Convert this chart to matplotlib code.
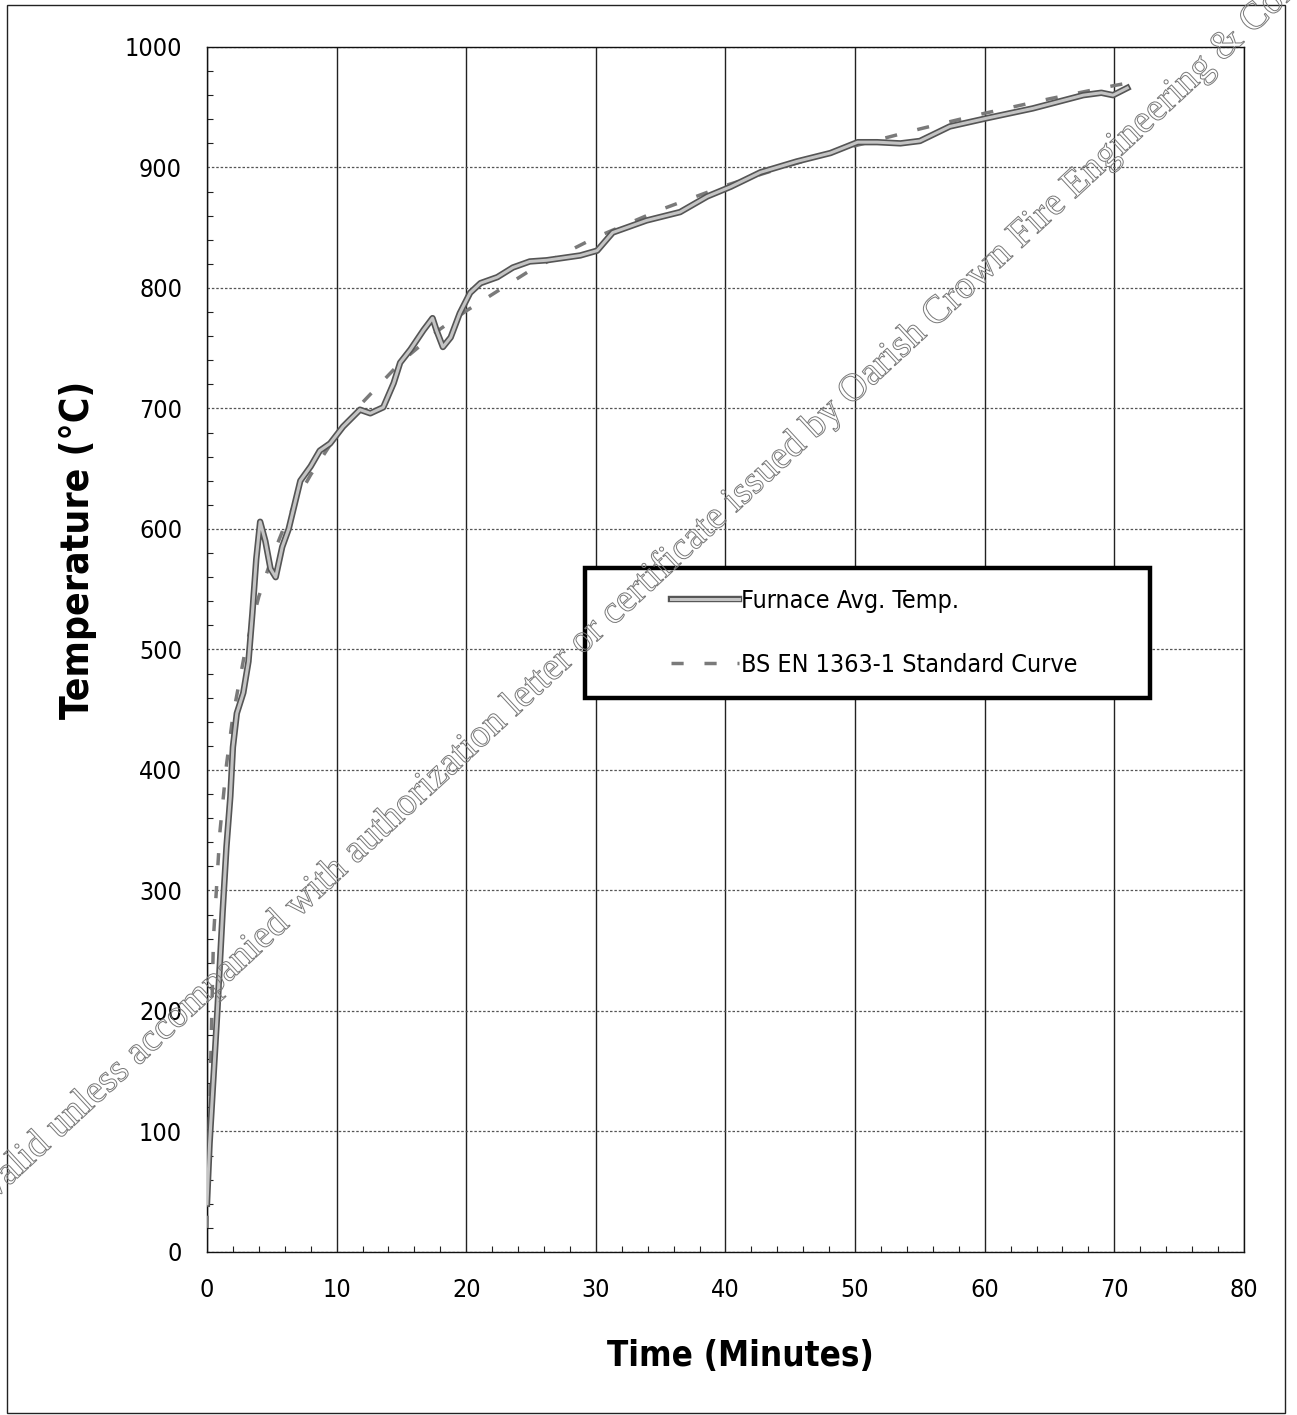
import matplotlib
matplotlib.use("Agg")
import matplotlib.pyplot as plt
import matplotlib.patheffects as pe
from matplotlib.patches import Rectangle
from matplotlib.legend_handler import HandlerLine2D
from matplotlib.ticker import MultipleLocator

# furnace average temperature
furnace_t = [0, 0.2, 0.5, 0.8, 1.2, 1.5, 1.8, 2.0, 2.3, 2.8, 3.2, 3.5, 3.8, 4.1, 4.5, 4.9,
             5.3, 5.8, 6.3, 7.2, 8.0, 8.7, 9.5, 10.5, 11.8, 12.6, 13.6, 14.4, 14.9, 15.7,
             16.7, 17.4, 17.7, 18.2, 18.8, 19.5, 20.3, 21.1, 22.4, 23.6, 24.9, 26.2, 27.5,
             28.8, 30.1, 31.3, 33.9, 36.5, 38.6, 40.4, 42.7, 45.5, 48.1, 50.2, 51.7, 53.5,
             55.0, 57.3, 60.2, 63.7, 67.6, 69.0, 69.9, 71.0]
furnace_T = [40, 90, 145, 200, 281, 336, 378, 419, 447, 464, 490, 530, 575, 606, 590, 567,
             560, 585, 600, 640, 652, 665, 671, 685, 699, 696, 701, 721, 738, 749,
             765, 775, 765, 751, 759, 779, 796, 804, 809, 817, 822, 823, 825,
             827, 831, 846, 856, 863, 876, 884, 896, 905, 912, 921, 921, 920,
             922, 934, 941, 949, 960, 962, 960, 966]

# BS EN 1363-1 standard curve
std_t = [0, 0.5, 1, 1.5, 2, 3, 4, 5, 6, 7, 8, 10, 12, 15, 18, 20, 25, 30, 35, 40,
         45, 50, 55, 60, 65, 70, 72]
std_T = [20, 261, 349, 404, 445, 502, 544, 576, 603, 626, 645, 678, 705, 739, 766, 781,
         815, 842, 865, 885, 902, 918, 932, 945, 957, 968, 972]

labels = ["Furnace Avg. Temp.", "BS EN 1363-1 Standard Curve"]
watermark = ("Valid unless accompanied with authorization letter or certificate "
             "issued by Oarish Crown Fire Engineering & Consultancy")

plt.rcParams["font.family"] = ["DejaVu Sans"]
plt.rcParams["font.stretch"] = "condensed"


class OffsetLine(HandlerLine2D):
    # leaves a blank stretch on the left of the handle, like the scanned legend
    def get_xdata(self, legend, xdescent, ydescent, width, height, fontsize):
        x0 = -xdescent + width * 0.49
        x1 = -xdescent + width
        return [x0, x1], [x0, x1]


fig = plt.figure(figsize=(12.97, 14.15), dpi=100)
ax = fig.add_axes([0.1596, 0.1152, 0.7995, 0.8516])

ax.plot(std_t, std_T, color="#7a7a7a", lw=2.5, dashes=(3.5, 6), label=labels[1], zorder=3)
ax.plot(furnace_t, furnace_T, color="#c4c4c4", lw=2.2, label=labels[0], zorder=4,
        path_effects=[pe.Stroke(linewidth=4.6, foreground="#555555"), pe.Normal()])

ax.set_xlim(0, 80)
ax.set_ylim(0, 1000)
ax.xaxis.set_major_locator(MultipleLocator(10))
ax.yaxis.set_major_locator(MultipleLocator(100))
ax.xaxis.set_minor_locator(MultipleLocator(2))
ax.yaxis.set_minor_locator(MultipleLocator(20))
ax.tick_params(which="major", length=0, labelsize=18)
ax.tick_params(axis="x", which="major", pad=19)
ax.tick_params(axis="y", which="major", pad=18)
ax.tick_params(which="minor", direction="in", length=4, width=0.8, color="#222")
ax.grid(axis="x", color="#222222", lw=1.0, ls="-")
ax.grid(axis="y", color="#555555", lw=0.9, ls=(0, (2, 1.5)))
for s in ax.spines.values():
    s.set_linewidth(1.0)
    s.set_color("#111111")

ax.set_xlabel("Time (Minutes)", fontsize=25, fontweight="bold")
ax.set_ylabel("Temperature (°C)", fontsize=28, fontweight="bold")
ax.xaxis.set_label_coords(0.514, -0.072)
ax.yaxis.set_label_coords(-0.106, 0.583)

leg = ax.legend(handles=ax.get_lines()[::-1], labels=labels,
                loc="upper left", bbox_to_anchor=(0.3645, 0.458, 0.5445, 0.11),
                mode="expand", borderaxespad=0, fontsize=18, handlelength=5.3,
                handletextpad=0.1, labelspacing=1.6, borderpad=0.85,
                fancybox=False, framealpha=1, edgecolor="black",
                handler_map={matplotlib.lines.Line2D: OffsetLine()})
leg.get_frame().set_linewidth(3.2)
leg.set_zorder(5)

# outer frame of the scanned page
fig.patches.append(Rectangle((0.0054, 0.0014), 0.9854, 0.995, transform=fig.transFigure,
                             fill=False, lw=1.0, ec="#222222"))

# hollow watermark across the page
fig.text(-0.007, 0.150, watermark, rotation=42.8, rotation_mode="anchor",
         ha="left", va="baseline", fontsize=28.3, color="none",
         family=["Liberation Serif", "DejaVu Serif"], fontstretch="normal",
         path_effects=[pe.Stroke(linewidth=0.7, foreground="#777777")], zorder=10)

fig.savefig("out.png", dpi=100, facecolor="white")
